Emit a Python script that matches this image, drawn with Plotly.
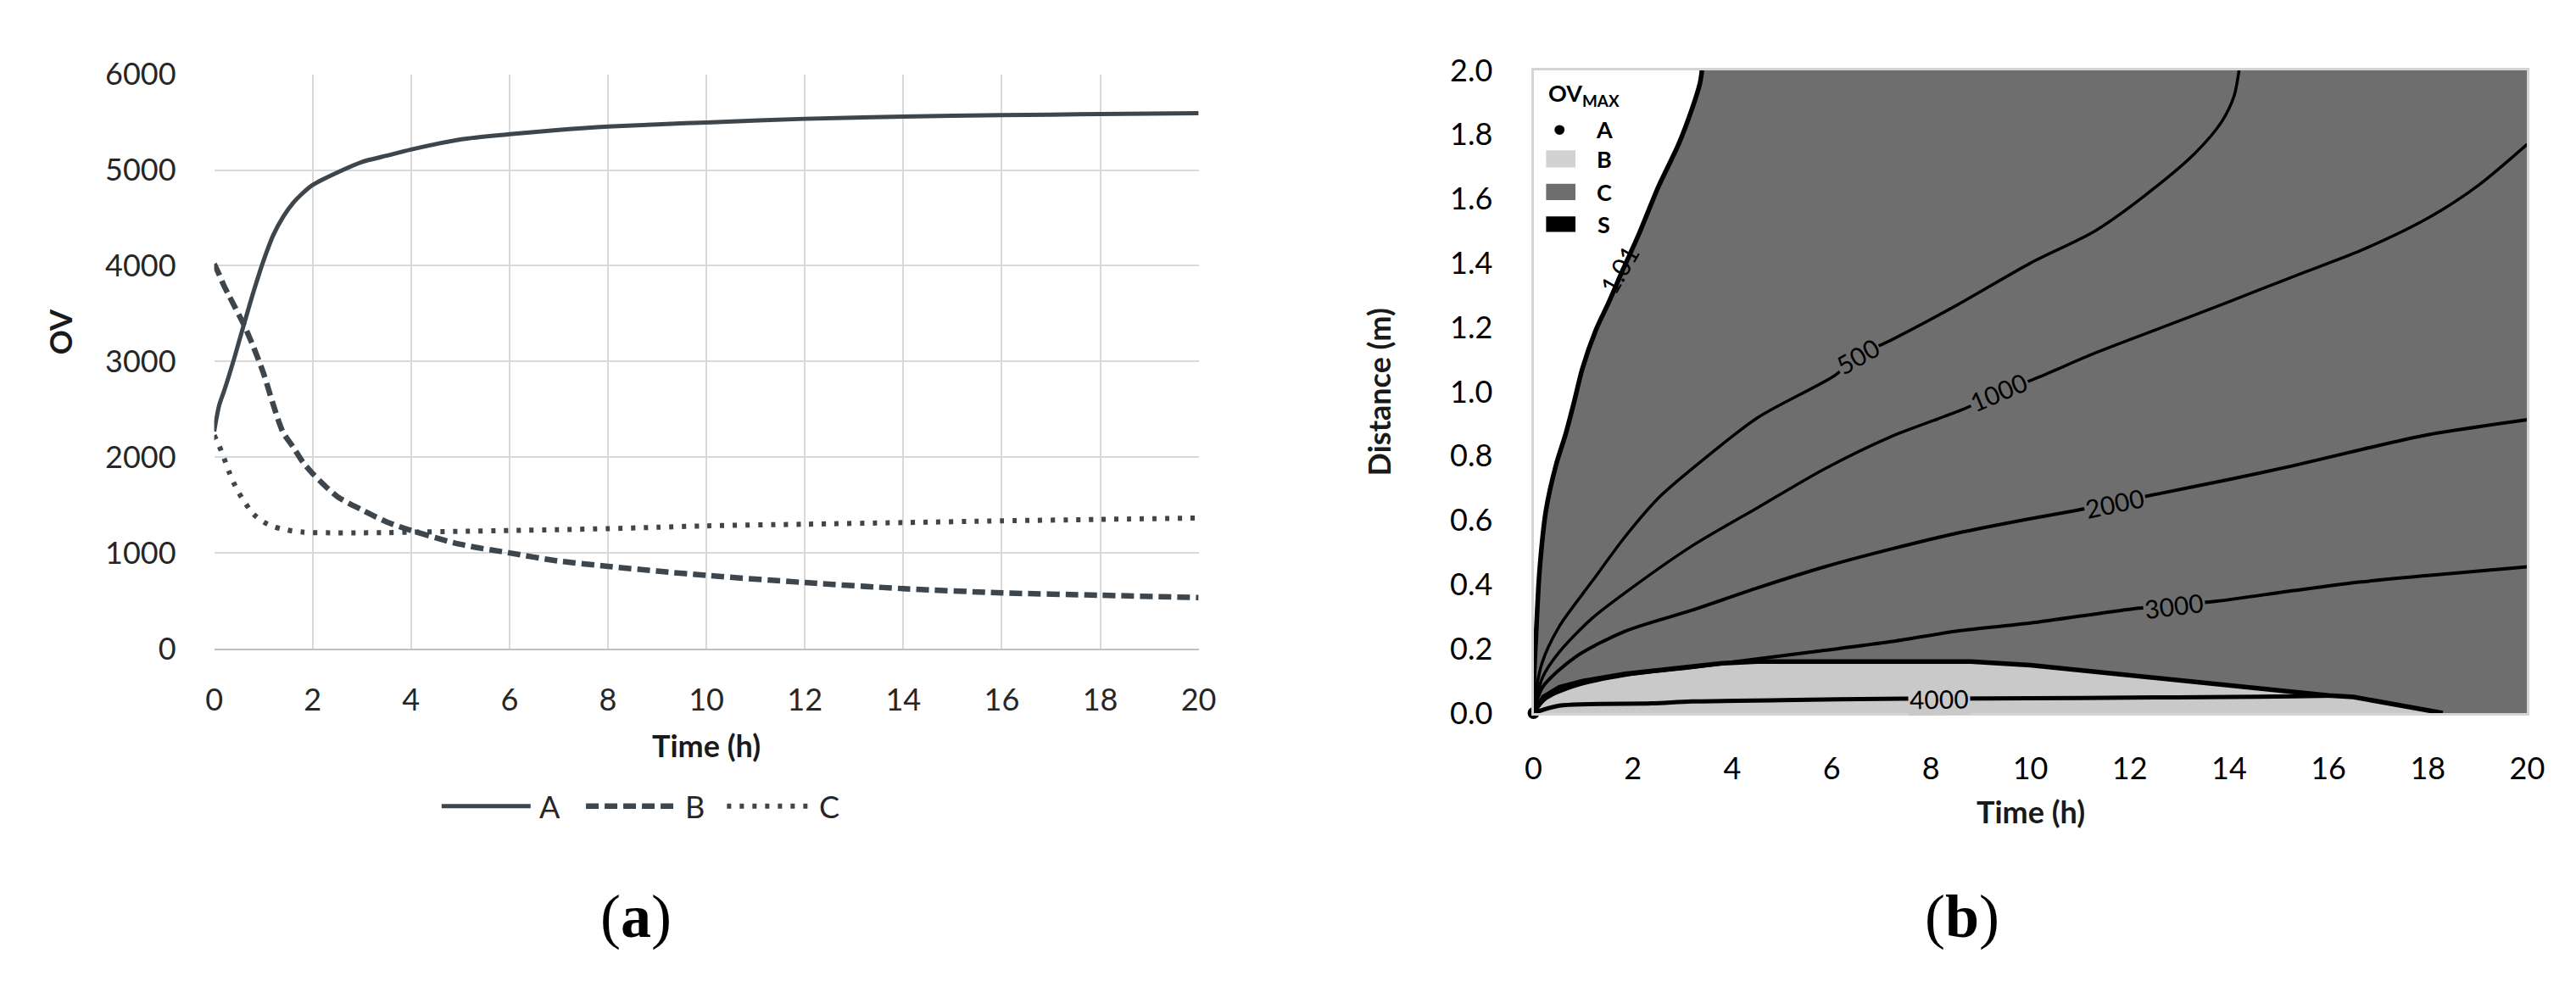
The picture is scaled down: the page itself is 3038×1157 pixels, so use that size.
import plotly.graph_objects as go
from plotly.subplots import make_subplots

W, H = 3038, 1157

# ---- (a) OV over time ----
time_h = [0, 0.1, 0.2, 0.3, 0.4, 0.5, 0.6, 0.8, 1.0, 1.2, 1.4, 1.6, 1.8, 2.0, 2.5, 3.0,
          3.5, 4, 5, 6, 7, 8, 9, 10, 12, 14, 16, 18, 20]
ov_a = [2270, 2540, 2690, 2850, 3020, 3200, 3380, 3730, 4050, 4320, 4510, 4655, 4760, 4845,
        4975, 5085, 5150, 5215, 5320, 5375, 5420, 5455, 5478, 5498, 5536, 5560, 5575, 5585, 5595]
ov_b = [4020, 3910, 3790, 3690, 3590, 3490, 3390, 3150, 2880, 2550, 2260, 2110, 1950, 1830,
        1590, 1450, 1325, 1235, 1090, 1000, 915, 860, 810, 765, 690, 627, 583, 558, 533]
ov_c = [2230, 2120, 1990, 1850, 1730, 1630, 1545, 1405, 1325, 1275, 1248, 1228, 1218, 1212,
        1210, 1210, 1212, 1217, 1225, 1234, 1243, 1254, 1268, 1283, 1300, 1317, 1335, 1350, 1365]
series_names = ["A", "B", "C"]

# ---- (b) OV_MAX contour lines (time h, distance m) ----
t_101 = [0, 0.01, 0.05, 0.12, 0.25, 0.45, 0.65, 0.82, 0.98, 1.25, 1.52, 1.8, 2.12, 2.52, 2.92, 3.19, 3.35, 3.39]
d_101 = [0, 0.11, 0.24, 0.44, 0.63, 0.77, 0.87, 0.97, 1.07, 1.19, 1.28, 1.38, 1.49, 1.64, 1.77, 1.88, 1.96, 2.0]
t_500 = [0, 0.05, 0.18, 0.52, 1.18, 1.85, 2.52, 3.19, 4.52, 6.06, 6.52, 7.19, 8.53, 10.0, 11.3, 12.3, 13.3, 13.85, 14.1, 14.2]
d_500 = [0, 0.07, 0.16, 0.27, 0.41, 0.55, 0.67, 0.76, 0.92, 1.05, 1.11, 1.16, 1.27, 1.40, 1.50, 1.61, 1.74, 1.84, 1.92, 2.0]
t_1000 = [0, 0.18, 0.52, 1.18, 1.85, 3.19, 4.52, 5.86, 7.19, 8.66, 9.36, 10.2, 11.3, 12.65, 14.0, 15.32, 16.66, 18.0, 19.0, 20.0]
d_1000 = [0, 0.11, 0.19, 0.295, 0.375, 0.52, 0.64, 0.76, 0.86, 0.946, 0.995, 1.047, 1.12, 1.2, 1.28, 1.36, 1.44, 1.54, 1.64, 1.77]
t_2000 = [0, 0.18, 0.85, 1.85, 3.19, 4.52, 5.86, 7.19, 8.53, 10.0, 10.9, 11.7, 12.6, 14.0, 15.3, 16.66, 18.0, 20.0]
d_2000 = [0, 0.08, 0.175, 0.255, 0.32, 0.39, 0.455, 0.51, 0.56, 0.605, 0.63, 0.655, 0.683, 0.727, 0.77, 0.82, 0.866, 0.913]
t_3000 = [0, 0.25, 0.85, 1.85, 3.19, 4.52, 5.86, 7.19, 8.53, 10.0, 12.05, 12.9, 13.75, 15.3, 16.66, 18.0, 20.0]
d_3000 = [0, 0.045, 0.085, 0.118, 0.142, 0.169, 0.195, 0.222, 0.255, 0.28, 0.324, 0.336, 0.348, 0.381, 0.408, 0.428, 0.455]
t_4000 = [0, 0.52, 2.38, 3.19, 5.0, 7.43, 8.16, 9.98, 12.0, 14.0, 15.3, 16.1]
d_4000 = [0, 0.023, 0.03, 0.036, 0.04, 0.045, 0.045, 0.046, 0.048, 0.05, 0.052, 0.054]
# upper edge of zone B
t_zone_b = [0, 0.2, 0.52, 1.0, 1.85, 3.0, 3.8, 4.5, 8.8, 10.0, 12.0, 14.0, 16.0, 16.5, 17.4, 18.3]
d_zone_b = [0, 0.05, 0.08, 0.1, 0.122, 0.14, 0.155, 0.16, 0.16, 0.149, 0.118, 0.085, 0.055, 0.05, 0.025, 0.0]
# zone A point
t_zone_a = [0]
d_zone_a = [0]

contour_levels = ["1.01", "500", "1000", "2000", "3000", "4000"]
label_t = [1.72, 6.52, 9.36, 11.7, 12.9, 8.16]
label_d = [1.38, 1.11, 1.0, 0.655, 0.336, 0.045]
label_angle = [-60, -30, -23, -12, -7, -1]

legend_b = ["A", "B", "C", "S"]

LINE = "#3d454d"
DARK = "#6e6e6e"
LIGHT = "#c9c9c9"
FONT = "Lato, Open Sans, sans-serif"


def px(x):
    return x / W


def py(y):
    return 1 - y / H


def note(txt, x, y, size, color="black", ang=0, xanchor="center", family=FONT):
    fig.add_annotation(x=px(x), y=py(y), xref="paper", yref="paper", text=txt,
                       showarrow=False, textangle=ang, xanchor=xanchor, yanchor="middle",
                       font=dict(family=family, size=size, color=color))


fig = make_subplots(rows=1, cols=2)

fig.add_trace(go.Scatter(x=time_h, y=ov_a, mode="lines", name=series_names[0],
                         line=dict(color=LINE, width=5, shape="spline", smoothing=0.8),
                         showlegend=False), 1, 1)
fig.add_trace(go.Scatter(x=time_h, y=ov_b, mode="lines", name=series_names[1],
                         line=dict(color=LINE, width=6.5, dash="15px,7px", shape="spline", smoothing=0.8),
                         showlegend=False), 1, 1)
fig.add_trace(go.Scatter(x=time_h, y=ov_c, mode="lines", name=series_names[2],
                         line=dict(color=LINE, width=6, dash="5px,10px", shape="spline", smoothing=0.8),
                         showlegend=False), 1, 1)

# zone C background, white zone left of 1.01, zone B
fig.add_shape(type="rect", xref="x2 domain", yref="y2 domain", x0=0, x1=1, y0=0, y1=1,
              fillcolor=DARK, line_width=0, layer="below")
fig.add_trace(go.Scatter(x=t_101, y=d_101, mode="lines", fill="tozerox", fillcolor="white",
                         line=dict(color="black", width=5.5, shape="spline", smoothing=0.8),
                         showlegend=False), 1, 2)
fig.add_trace(go.Scatter(x=t_zone_b, y=d_zone_b, mode="lines", fill="tozeroy", fillcolor=LIGHT,
                         line=dict(color="black", width=5.5), showlegend=False), 1, 2)
for tt, dd, w in [(t_500, d_500, 3.5), (t_1000, d_1000, 3.5), (t_2000, d_2000, 4),
                  (t_3000, d_3000, 4), (t_4000, d_4000, 5)]:
    fig.add_trace(go.Scatter(x=tt, y=dd, mode="lines",
                             line=dict(color="black", width=w, shape="spline", smoothing=0.8),
                             showlegend=False), 1, 2)
fig.add_trace(go.Scatter(x=t_zone_a, y=d_zone_a, mode="markers", cliponaxis=False,
                         marker=dict(color="black", size=14), showlegend=False), 1, 2)

for lev, lt, ld, ang in zip(contour_levels, label_t, label_d, label_angle):
    bg = None if lev == "1.01" else (LIGHT if lev == "4000" else DARK)
    fig.add_annotation(x=lt, y=ld, xref="x2", yref="y2", text=lev, showarrow=False,
                       textangle=ang, bgcolor=bg, borderpad=1,
                       font=dict(family=FONT, size=30, color="black"))

axis_font = dict(family=FONT, size=36, color="#262626")
fig.update_xaxes(range=[0, 20], dtick=2, showgrid=True, gridcolor="#d9d9d9", gridwidth=2,
                 zeroline=False, showline=True, linecolor="#bfbfbf", linewidth=2,
                 tickfont=axis_font, ticklabelstandoff=28, row=1, col=1)
fig.update_yaxes(range=[0, 6000], dtick=1000, showgrid=True, gridcolor="#d9d9d9", gridwidth=2,
                 zeroline=False, tickfont=axis_font, ticklabelstandoff=44, row=1, col=1)
fig.update_xaxes(range=[0, 20], dtick=2, showgrid=False, zeroline=False, showline=True,
                 mirror=True, linecolor="#d4d4d4", linewidth=3,
                 tickfont=dict(family=FONT, size=36, color="black"), ticklabelstandoff=32,
                 row=1, col=2)
fig.update_yaxes(range=[0, 2], dtick=0.2, tickformat=".1f", showgrid=False, zeroline=False,
                 showline=True, mirror=True, linecolor="#d4d4d4", linewidth=3,
                 tickfont=dict(family=FONT, size=36, color="black"), ticklabelstandoff=38,
                 row=1, col=2)

fig.update_layout(
    width=W, height=H, margin=dict(l=0, r=0, t=0, b=0),
    paper_bgcolor="white", plot_bgcolor="white", showlegend=False,
    xaxis=dict(domain=[px(237), px(1410)]), yaxis=dict(domain=[py(763), py(59)]),
    xaxis2=dict(domain=[px(1809), px(2993)]), yaxis2=dict(domain=[py(842), py(54)]),
)

note("<b>OV</b>", 53, 374, 36, "#1a1a1a", ang=-90)
note("<b>Time (h)</b>", 823, 882, 36, "#1a1a1a")
note("<b>Distance (m)</b>", 1625, 448, 36, "#1a1a1a", ang=-90)
note("<b>Time (h)</b>", 2401, 963, 36, "#1a1a1a")
note("(<b>a</b>)", 740, 1091, 72, family="Liberation Serif, serif")
note("(<b>b</b>)", 2320, 1091, 72, family="Liberation Serif, serif")

# legend of (a)
for name, x0, x1, dash, w in [("A", 508, 614, "solid", 5), ("B", 680, 788, "15px,7px", 6.5),
                              ("C", 848, 948, "5px,10px", 6)]:
    fig.add_shape(type="line", xref="paper", yref="paper", x0=px(x0), x1=px(x1),
                  y0=py(956), y1=py(956), line=dict(color=LINE, width=w, dash=dash))
    note(name, x1 + 8, 956, 36, "#262626", xanchor="left")

# legend of (b)
note("<b>OV<sub>MAX</sub></b>", 1825, 84, 27, xanchor="left")
fig.add_shape(type="circle", xref="paper", yref="paper", x0=px(1834), x1=px(1846),
              y0=py(133), y1=py(121), fillcolor="black", line_width=0)
for name, y0, y1, col in [("B", 152, 173, "#d2d2d2"), ("C", 193, 213, DARK), ("S", 233, 252, "black")]:
    fig.add_shape(type="rect", xref="paper", yref="paper", x0=px(1824), x1=px(1859),
                  y0=py(y1), y1=py(y0), fillcolor=col, line_width=0)
for name, y in zip(legend_b, [126, 163, 203, 243]):
    note("<b>" + name + "</b>", 1893, y, 27)

fig.write_html("out.html")
